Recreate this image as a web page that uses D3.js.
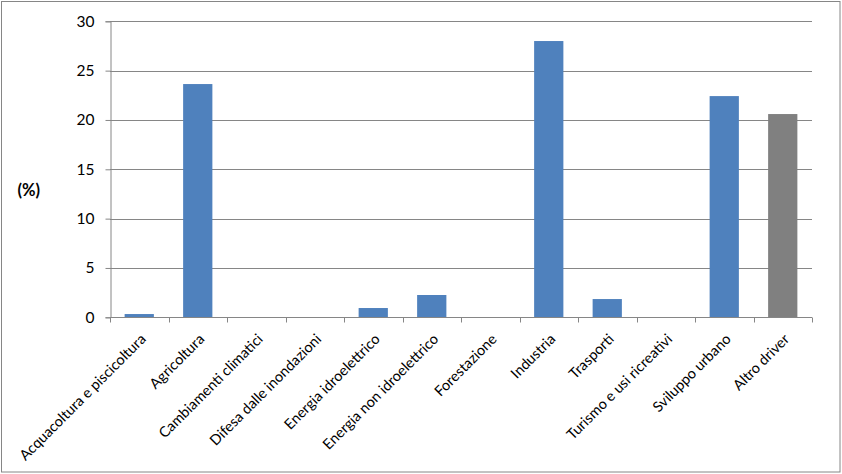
<!DOCTYPE html>
<html><head><meta charset="utf-8">
<script src="https://cdn.jsdelivr.net/npm/d3@7/dist/d3.min.js"></script>
<style>body{margin:0;background:#fff;}svg{display:block;font-family:Lato,"Open Sans",sans-serif;}</style>
</head><body><svg id="c" width="842" height="474"></svg>
<script>
const categories = ["Acquacoltura e piscicoltura","Agricoltura","Cambiamenti climatici","Difesa dalle inondazioni","Energia idroelettrico","Energia non idroelettrico","Forestazione","Industria","Trasporti","Turismo e usi ricreativi","Sviluppo urbano","Altro driver"];
const values = [0.33,23.64,0,0,0.94,2.26,0,28.0,1.85,0,22.42,20.6];
const barColors = ["#4F81BD","#4F81BD","#4F81BD","#4F81BD","#4F81BD","#4F81BD","#4F81BD","#4F81BD","#4F81BD","#4F81BD","#4F81BD","#808080"];
const yTicks = [0,5,10,15,20,25,30];
const yLabel = "(%)";

(function(){
const svg = d3.select("#c");
const pL=110, pR=812, pT=21.3, pB=317.3;
svg.append("rect").attr("x",1.5).attr("y",1.5).attr("width",838.5).attr("height",470.5).attr("fill","#fff").attr("stroke","#868686").attr("stroke-width",1);

const x = d3.scaleBand().domain(categories).range([pL,pR]).paddingInner(0.5).paddingOuter(0.25);
const xb = d3.scaleBand().domain(categories).range([pL,pR]);
const y = d3.scaleLinear().domain([0,30]).range([pB,pT]);

// gridlines
svg.append("g").selectAll("line").data(yTicks.filter(d=>d>0)).join("line")
  .attr("x1",pL).attr("x2",pR).attr("y1",d=>Math.round(y(d))+0.5).attr("y2",d=>Math.round(y(d))+0.5)
  .attr("stroke","#868686").attr("stroke-width",1);

// bars
svg.append("g").selectAll("rect").data(values).join("rect")
  .attr("x",(d,i)=>x(categories[i])).attr("width",x.bandwidth())
  .attr("y",d=>y(d)).attr("height",d=>pB-y(d))
  .attr("fill",(d,i)=>barColors[i]);

// y axis
const ya = svg.append("g").attr("transform",`translate(${pL+0.5},0)`)
  .call(d3.axisLeft(y).tickValues(yTicks).tickSize(5).tickPadding(11));
ya.select(".domain").attr("stroke","#868686");
ya.selectAll(".tick line").attr("stroke","#868686");
ya.selectAll(".tick text").attr("font-size",15.5).attr("fill","#000").attr("font-family","Lato,sans-serif");

// x axis
const xa = svg.append("g").attr("transform",`translate(0,${Math.round(pB)+0.5})`);
xa.append("line").attr("x1",pL).attr("x2",pR).attr("stroke","#868686");
const bounds = categories.map(c=>xb(c)).concat([pR]);
xa.selectAll("line.t").data(bounds).join("line").attr("class","t")
  .attr("x1",d=>Math.round(d)+0.5).attr("x2",d=>Math.round(d)+0.5).attr("y1",0).attr("y2",5).attr("stroke","#868686");
xa.selectAll("text").data(categories).join("text")
  .attr("transform",d=>`translate(${xb(d)+xb.bandwidth()/2+7.5},${22.5}) rotate(-45)`)
  .attr("text-anchor","end")
  .attr("font-size",14.5).attr("fill","#000").text(d=>d);

svg.append("text").attr("x",28.7).attr("y",190).attr("text-anchor","middle").attr("dy","0.35em")
  .attr("font-size",16.5).attr("font-weight","bold").text(yLabel);
})();
</script></body></html>
